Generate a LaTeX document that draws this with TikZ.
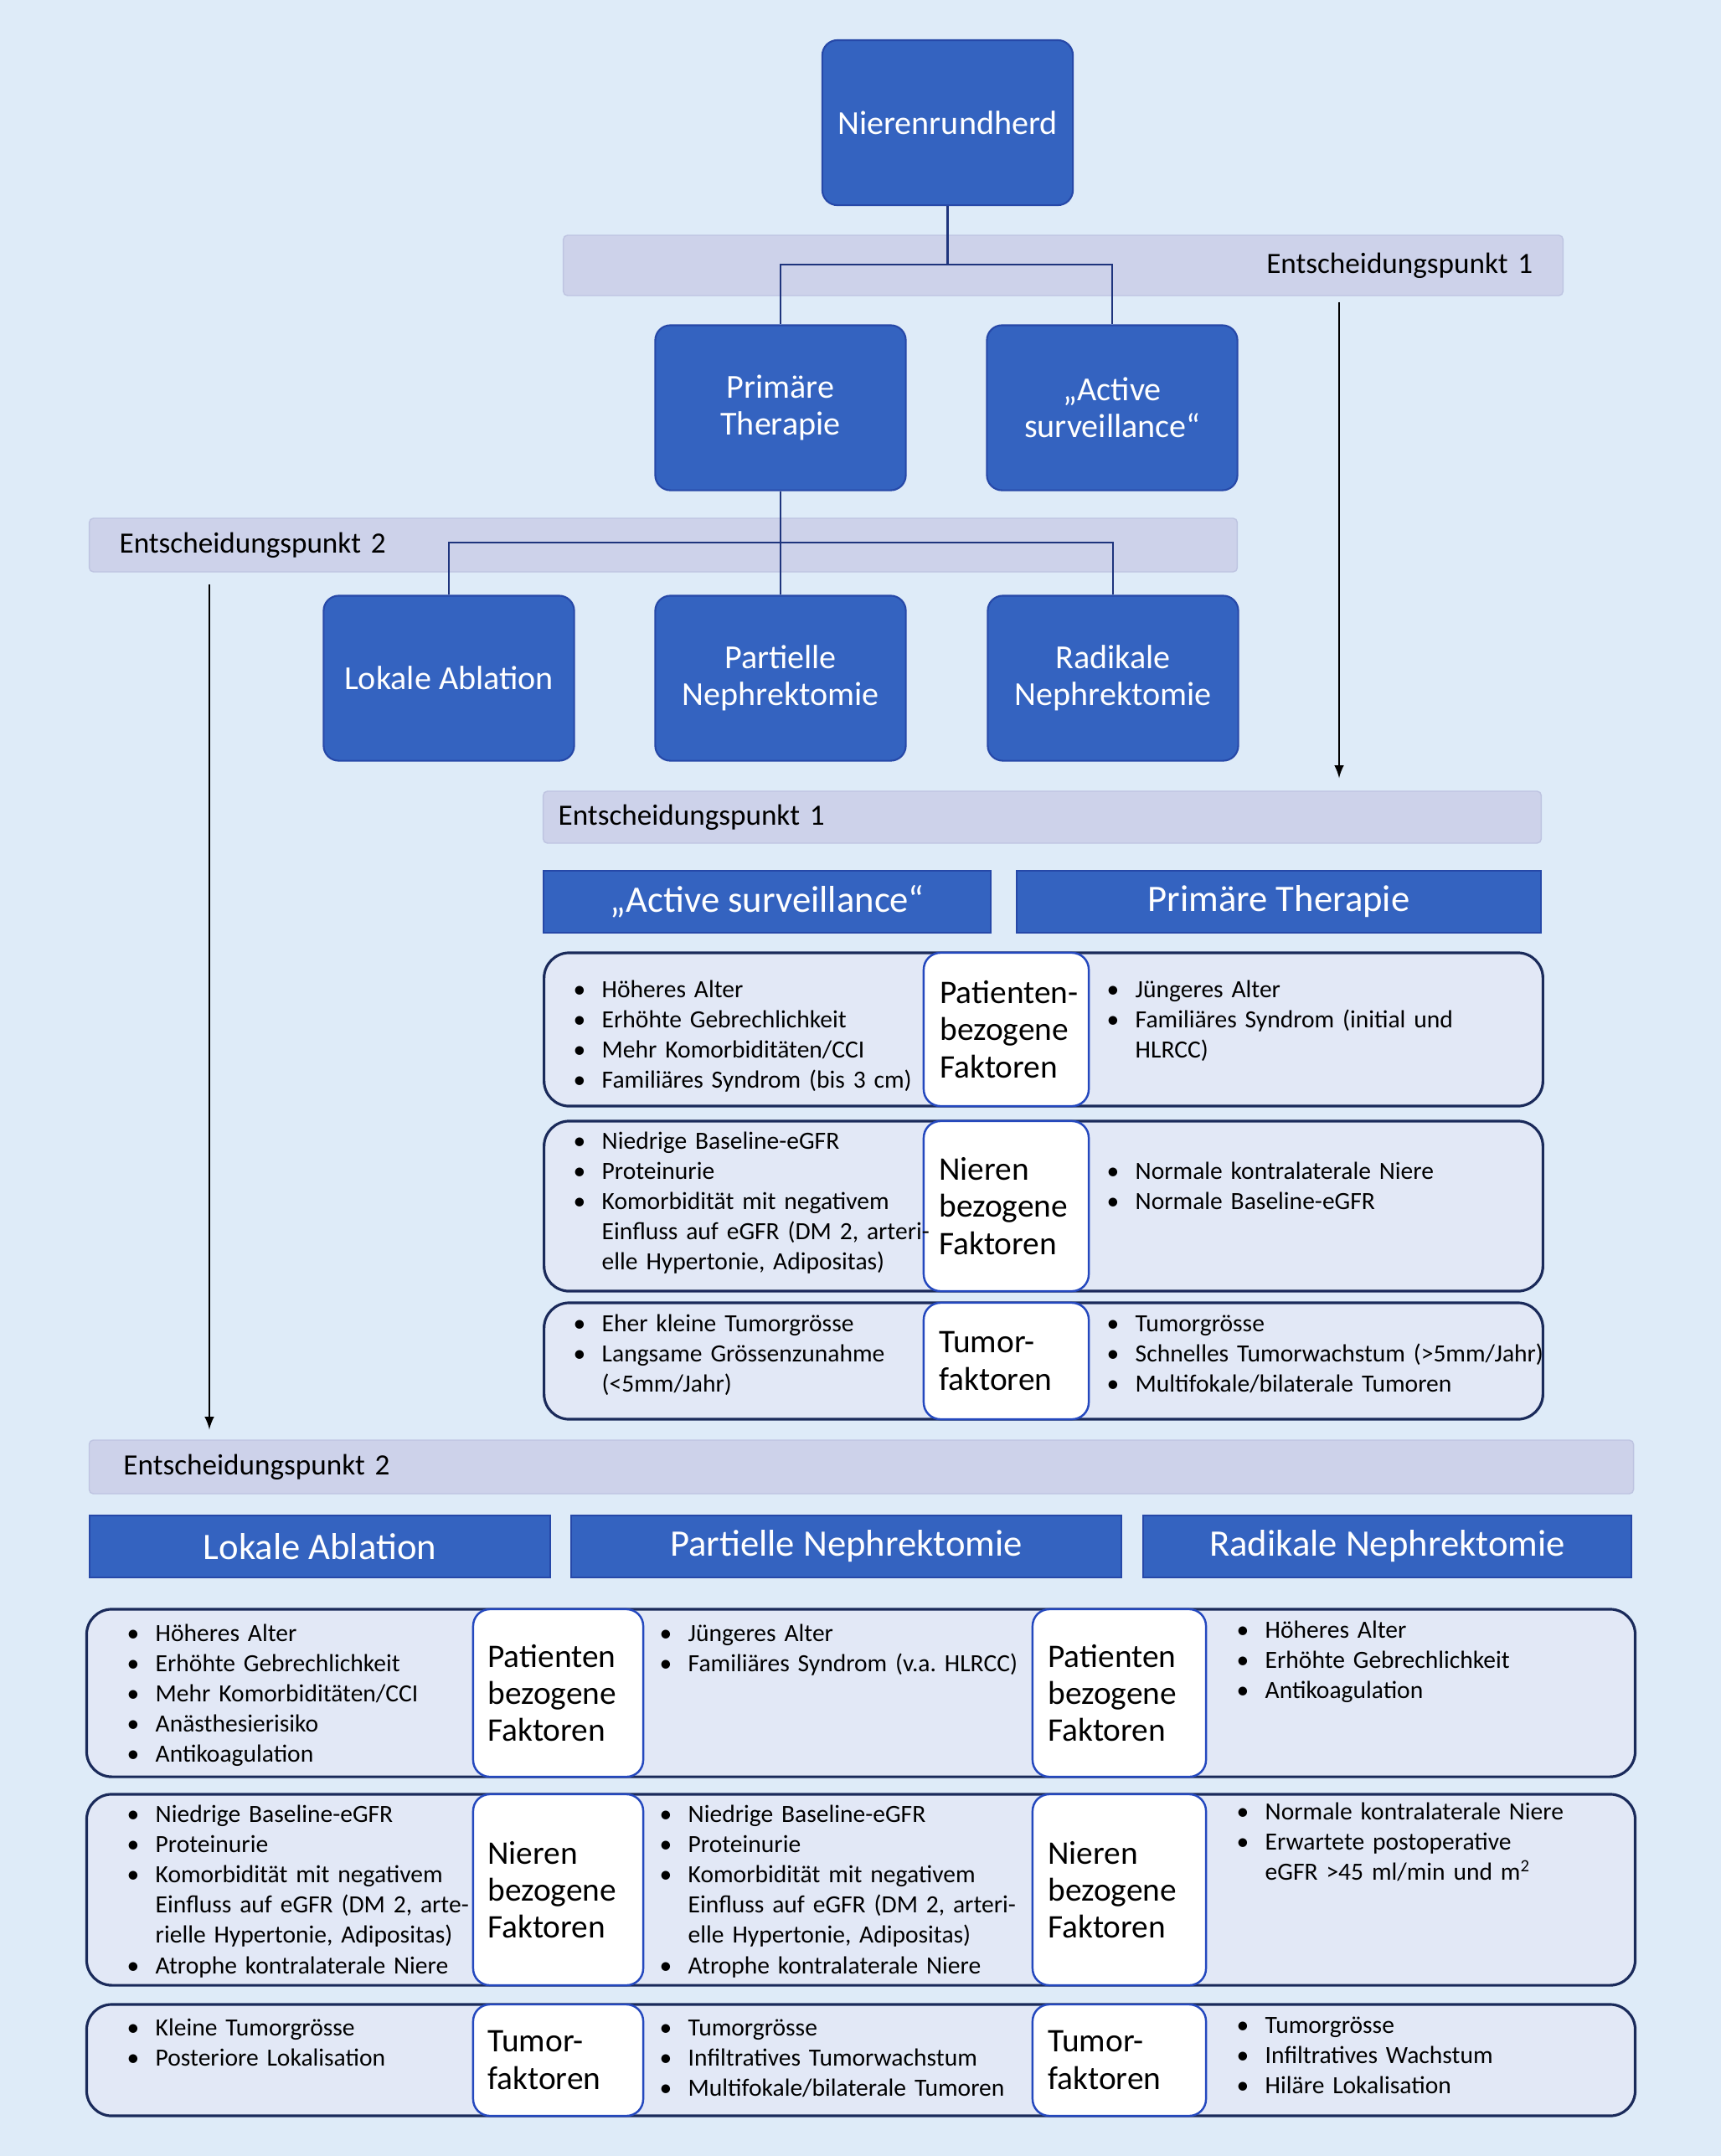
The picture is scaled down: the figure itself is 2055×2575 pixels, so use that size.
\documentclass[tikz,border=0pt]{standalone}
\usepackage{fontspec}
\setmainfont{Carlito}
\definecolor{bg}{RGB}{222,235,248}
\definecolor{boxblue}{RGB}{52,99,192}
\definecolor{boxedge}{RGB}{38,72,168}
\definecolor{band}{RGB}{205,210,234}
\definecolor{bandedge}{RGB}{190,196,225}
\definecolor{panel}{RGB}{226,232,246}
\definecolor{paneledge}{RGB}{26,42,90}
\definecolor{labeledge}{RGB}{36,72,190}
\definecolor{linkline}{RGB}{30,52,125}

\frenchspacing
\newcommand{\bul}[1]{\hangindent=0.34cm\hangafter=1\noindent\makebox[0.34cm][l]{\textbullet}#1\par}

\begin{document}
\begin{tikzpicture}[x=0.01cm,y=-0.01cm,
	bluebox/.style={rectangle,rounded corners=0.18cm,fill=boxblue,draw=boxedge,line width=0.6pt,
		minimum width=2.99cm,minimum height=1.97cm,text=white,align=center,
		font=\fontsize{11.4}{12.5}\selectfont},
	band/.style={rectangle,rounded corners=0.05cm,fill=band,draw=bandedge,line width=0.4pt,
		font=\fontsize{10}{12}\selectfont,inner sep=0pt},
	header/.style={rectangle,fill=boxblue,draw=boxedge,line width=0.6pt,
		minimum height=0.74cm,text=white,font=\fontsize{12.7}{14}\selectfont},
	panelbox/.style={rectangle,rounded corners=0.3cm,fill=panel,draw=paneledge,line width=0.9pt},
	labelbox/.style={rectangle,rounded corners=0.2cm,fill=white,draw=labeledge,line width=0.7pt},
	labeltext/.style={anchor=west,inner sep=0pt,align=left,font=\fontsize{11.2}{12.6}\selectfont},
	items/.style={anchor=base west,inner sep=0pt,text width=5.6cm,align=left,
		font=\fontsize{8.4}{10.3}\selectfont},
	link/.style={draw=linkline,line width=0.7pt},
	jump/.style={-latex,line width=0.5pt,black}]

	\useasboundingbox (0,0) rectangle (2055,2575);
	\fill[bg] (0,0) rectangle (2055,2575);

	% decision bands (top tree)
	\node[band,minimum width=11.93cm,minimum height=0.72cm,text width=11.21cm,align=right] (ep1a) at (1269.5,317) {Entscheidungspunkt 1};
	\node[band,minimum width=13.70cm,minimum height=0.64cm,text width=12.98cm,align=left] (ep2a) at (792,651) {Entscheidungspunkt 2};

	% tree
	\node[bluebox] (root) at (1131.5,146.5) {Nierenrundherd};

	\node[bluebox] (prim) at (932,487) {Primäre\\Therapie};
	\node[bluebox] (surv) at (1328,487) {„Active\\surveillance“};

	\node[bluebox] (abl) at (536,810) {Lokale Ablation};
	\node[bluebox] (part) at (932,810) {Partielle\\Nephrektomie};
	\node[bluebox] (rad) at (1329,810) {Radikale\\Nephrektomie};

	\coordinate (j1) at (1131.5,316);
	\coordinate (j2) at (932,648);

	\path[link] (root.south) -- (j1);
	\path[link] (j1) -| (prim.north);
	\path[link] (j1) -| (surv.north);

	\path[link] (prim.south) -- (j2);
	\path[link] (j2) -| (abl.north);
	\path[link] (j2) -- (part.north);
	\path[link] (j2) -| (rad.north);

	% first decision point
	\node[band,minimum width=11.91cm,minimum height=0.62cm,text width=11.55cm,align=left] (ep1b) at (1244.5,976) {Entscheidungspunkt 1};

	\coordinate (a1) at (1599,0);
	\draw[jump,shorten <=0.07cm,shorten >=0.15cm] (ep1a.south -| a1) -- (ep1b.north -| a1);

	\node[header,minimum width=5.34cm] (hsurv) at (916,1077) {„Active surveillance“};
	\node[header,minimum width=6.26cm] (hprim) at (1527,1077) {Primäre Therapie};

	\node[panelbox,minimum width=11.92cm,minimum height=1.83cm] (p1) at (1246,1229.5) {};
	\node[panelbox,minimum width=11.92cm,minimum height=2.03cm] (p2) at (1246,1440.5) {};
	\node[panelbox,minimum width=11.92cm,minimum height=1.39cm] (p3) at (1246,1625.5) {};

	\node[labelbox,minimum width=1.97cm,minimum height=1.83cm] (w1) at (1201.5,1229.5) {};
	\node[labelbox,minimum width=1.97cm,minimum height=2.03cm] (w2) at (1201.5,1440.5) {};
	\node[labelbox,minimum width=1.97cm,minimum height=1.39cm] (w3) at (1201.5,1625.5) {};
	\node[labeltext] (t1) at ([xshift=0.20cm]w1.west) {Patienten-\\bezogene\\Faktoren};
	\node[labeltext] (t2) at ([xshift=0.19cm]w2.west) {Nieren\\bezogene\\Faktoren};
	\node[labeltext] (t3) at ([xshift=0.19cm]w3.west) {Tumor-\\faktoren};

	\node[items] (l1a) at (684,1191) {\bul{Höheres Alter}\bul{Erhöhte Gebrechlichkeit}\bul{Mehr Komorbiditäten/CCI}\bul{Familiäres Syndrom (bis 3 cm)}};
	\node[items] (l1b) at (1321,1191) {\bul{Jüngeres Alter}\bul{Familiäres Syndrom (initial und\newline HLRCC)}};
	\node[items] (l2a) at (684,1372) {\bul{Niedrige Baseline-eGFR}\bul{Proteinurie}\bul{Komorbidität mit negativem\newline Einfluss auf eGFR (DM 2, arteri-\newline elle Hypertonie, Adipositas)}};
	\node[items] (l2b) at (1321,1408) {\bul{Normale kontralaterale Niere}\bul{Normale Baseline-eGFR}};
	\node[items] (l3a) at (684,1590) {\bul{Eher kleine Tumorgrösse}\bul{Langsame Grössenzunahme\newline (<5mm/Jahr)}};
	\node[items] (l3b) at (1321,1590) {\bul{Tumorgrösse}\bul{Schnelles Tumorwachstum (>5mm/Jahr)}\bul{Multifokale/bilaterale Tumoren}};

	% second decision point
	\node[band,minimum width=18.43cm,minimum height=0.64cm,text width=17.61cm,align=left] (ep2b) at (1028.5,1752) {Entscheidungspunkt 2};

	\coordinate (a2) at (250,0);
	\draw[jump,shorten <=0.14cm,shorten >=0.12cm] (ep2a.south -| a2) -- (ep2b.north -| a2);

	\node[header,minimum width=5.50cm] (habl) at (382,1847) {Lokale Ablation};
	\node[header,minimum width=6.57cm] (hpart) at (1010.5,1847) {Partielle Nephrektomie};
	\node[header,minimum width=5.83cm] (hrad) at (1656.5,1847) {Radikale Nephrektomie};

	\node[panelbox,minimum width=18.48cm,minimum height=2.00cm] (q1) at (1028,2022) {};
	\node[panelbox,minimum width=18.48cm,minimum height=2.28cm] (q2) at (1028,2257) {};
	\node[panelbox,minimum width=18.48cm,minimum height=1.33cm] (q3) at (1028,2460.5) {};

	\node[labelbox,minimum width=2.03cm,minimum height=2.00cm] (v1a) at (666.5,2022) {};
	\node[labelbox,minimum width=2.07cm,minimum height=2.00cm] (v1b) at (1336.5,2022) {};
	\node[labelbox,minimum width=2.03cm,minimum height=2.28cm] (v2a) at (666.5,2257) {};
	\node[labelbox,minimum width=2.07cm,minimum height=2.28cm] (v2b) at (1336.5,2257) {};
	\node[labelbox,minimum width=2.03cm,minimum height=1.33cm] (v3a) at (666.5,2460.5) {};
	\node[labelbox,minimum width=2.07cm,minimum height=1.33cm] (v3b) at (1336.5,2460.5) {};
	\node[labeltext] (u1a) at ([xshift=0.18cm]v1a.west) {Patienten\\bezogene\\Faktoren};
	\node[labeltext] (u1b) at ([xshift=0.19cm]v1b.west) {Patienten\\bezogene\\Faktoren};
	\node[labeltext] (u2a) at ([xshift=0.18cm]v2a.west) {Nieren\\bezogene\\Faktoren};
	\node[labeltext] (u2b) at ([xshift=0.19cm]v2b.west) {Nieren\\bezogene\\Faktoren};
	\node[labeltext] (u3a) at ([xshift=0.18cm]v3a.west) {Tumor-\\faktoren};
	\node[labeltext] (u3b) at ([xshift=0.19cm]v3b.west) {Tumor-\\faktoren};

	\node[items] (m1a) at (151,1960) {\bul{Höheres Alter}\bul{Erhöhte Gebrechlichkeit}\bul{Mehr Komorbiditäten/CCI}\bul{Anästhesierisiko}\bul{Antikoagulation}};
	\node[items] (m1b) at (787,1960) {\bul{Jüngeres Alter}\bul{Familiäres Syndrom (v.a. HLRCC)}};
	\node[items] (m1c) at (1476,1956) {\bul{Höheres Alter}\bul{Erhöhte Gebrechlichkeit}\bul{Antikoagulation}};

	\node[items] (m2a) at (151,2176) {\bul{Niedrige Baseline-eGFR}\bul{Proteinurie}\bul{Komorbidität mit negativem\newline Einfluss auf eGFR (DM 2, arte-\newline rielle Hypertonie, Adipositas)}\bul{Atrophe kontralaterale Niere}};
	\node[items] (m2b) at (787,2176) {\bul{Niedrige Baseline-eGFR}\bul{Proteinurie}\bul{Komorbidität mit negativem\newline Einfluss auf eGFR (DM 2, arteri-\newline elle Hypertonie, Adipositas)}\bul{Atrophe kontralaterale Niere}};
	\node[items] (m2c) at (1476,2173) {\bul{Normale kontralaterale Niere}\bul{Erwartete postoperative\newline eGFR >45 ml/min und m\textsuperscript{2}}};

	\node[items] (m3a) at (151,2431) {\bul{Kleine Tumorgrösse}\bul{Posteriore Lokalisation}};
	\node[items] (m3b) at (787,2431) {\bul{Tumorgrösse}\bul{Infiltratives Tumorwachstum}\bul{Multifokale/bilaterale Tumoren}};
	\node[items] (m3c) at (1476,2428) {\bul{Tumorgrösse}\bul{Infiltratives Wachstum}\bul{Hiläre Lokalisation}};

\end{tikzpicture}
\end{document}
